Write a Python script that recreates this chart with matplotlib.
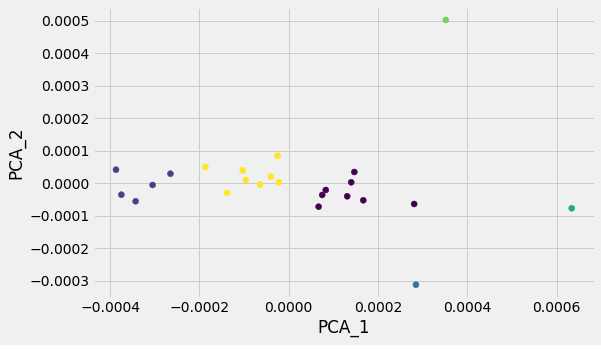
import numpy as np
import matplotlib
matplotlib.use('Agg')
from matplotlib import pyplot as plt
from matplotlib.patches import Rectangle

# PCA coordinates
pca_1 = [-0.000387, -0.000375, -0.000343, -0.000305, -0.000265,
         -0.000187, -0.000103, -0.000096, -0.000138, -0.000064,
         -0.000040, -0.000025, -0.000022,
         0.000067, 0.000075, 0.000083, 0.000131, 0.000140,
         0.000147, 0.000167, 0.000281,
         0.000285, 0.000634, 0.000352]
pca_2 = [0.0000422, -0.0000348, -0.0000550, -0.0000049, 0.0000298,
         0.0000505, 0.0000403, 0.0000105, -0.0000295, -0.0000040,
         0.0000206, 0.0000852, 0.0000034,
         -0.0000717, -0.0000357, -0.0000203, -0.0000397, 0.0000034,
         0.0000351, -0.0000520, -0.0000634,
         -0.0003117, -0.0000766, 0.000503]
cluster = [1, 1, 1, 1, 1,
           5, 5, 5, 5, 5, 5, 5, 5,
           0, 0, 0, 0, 0, 0, 0, 0,
           2, 3, 4]

plt.style.use('fivethirtyeight')

W, H = 601, 364
fig = plt.figure(figsize=(W / 72, H / 72), dpi=72)
ax = fig.add_axes([93.2 / W, (H - 297.9) / H, (594.5 - 93.2) / W, (297.9 - 6.7) / H])

ax.scatter(pca_1, pca_2, c=cluster, cmap='viridis', vmin=0, vmax=5)
ax.set_xlabel('PCA_1')
ax.set_ylabel('PCA_2')

# white strip under the grey figure area, as in the reference
fig.patches.append(Rectangle((0, 0), 1, 19 / H, transform=fig.transFigure,
                             facecolor='white', edgecolor='none', zorder=-1))

fig.savefig('out.png', dpi=72)
